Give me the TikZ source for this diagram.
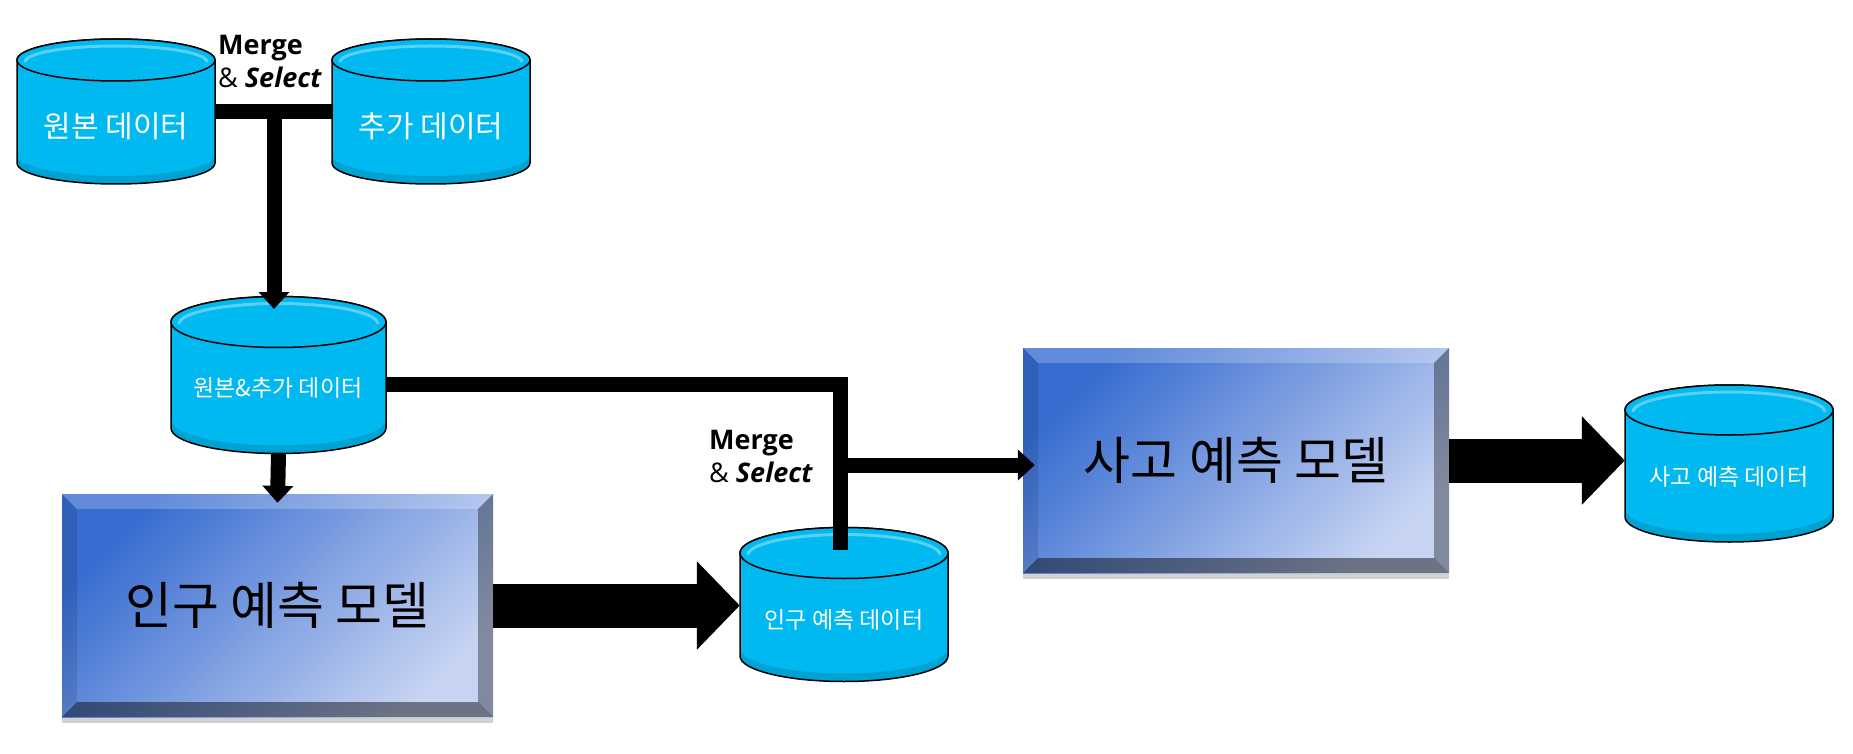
\documentclass[tikz,border=0pt]{standalone}
\usepackage{fontspec}
\setmainfont{Noto Sans CJK KR}
\newfontfamily\latinfont{Open Sans}
\usepackage{tikz}
\usetikzlibrary{arrows.meta, shadows}

\definecolor{dbcyan}{RGB}{0,185,240}
\definecolor{mdark}{RGB}{55,108,208}
\definecolor{mlight}{RGB}{198,211,242}

% cylinder: name, cx, top y, bottom y, rx, ry
\newcommand{\dbcyl}[6]{%
  \path[dbbody] ({#2-#5},#3) -- ({#2-#5},#4)
    arc[start angle=180, end angle=0, x radius=#5, y radius=#6]
    -- ({#2+#5},#3)
    arc[start angle=0, end angle=-180, x radius=#5, y radius=#6] -- cycle;
  \fill[black, opacity=.12] ({#2-#5},{#4-8}) -- ({#2-#5},#4)
    arc[start angle=180, end angle=0, x radius=#5, y radius=#6]
    -- ({#2+#5},{#4-8})
    arc[start angle=0, end angle=180, x radius=#5, y radius=#6] -- cycle;
  \draw[dbtop] (#2,#3) ellipse [x radius=#5, y radius=#6];
  \draw[white, opacity=.35, line width=3pt] ({#2-#5+8},{#3+2})
    arc[start angle=180, end angle=360, x radius={#5-8}, y radius={#6-5}];
  \node[dbnode, minimum width={2*#5}, minimum height={#4-#3+2*#6}] (#1) at (#2,{(#3+#4)/2}) {};
}

% bevelled edge of a model box
\newcommand{\bevel}[1]{%
  \fill[white, opacity=.22] (#1.north west) -- (#1.north east) -- ([shift={(-15,15)}]#1.north east) -- ([shift={(15,15)}]#1.north west) -- cycle;
  \fill[black, opacity=.10] (#1.north west) -- ([shift={(15,15)}]#1.north west) -- ([shift={(15,-15)}]#1.south west) -- (#1.south west) -- cycle;
  \fill[black, opacity=.35] (#1.north east) -- ([shift={(-15,15)}]#1.north east) -- ([shift={(-15,-15)}]#1.south east) -- (#1.south east) -- cycle;
  \fill[black, opacity=.45] (#1.south west) -- ([shift={(15,-15)}]#1.south west) -- ([shift={(-15,-15)}]#1.south east) -- (#1.south east) -- cycle;
}

\begin{document}
\begin{tikzpicture}[x=1pt, y=-1pt,
    dbbody/.style={fill=dbcyan, draw=black, line width=1.5pt},
    dbtop/.style={fill=dbcyan, draw=black, line width=1.5pt},
    dbnode/.style={rectangle, inner sep=0},
    dblabel/.style={text=white, inner sep=0},
    modelbox/.style={rectangle, inner sep=0, top color=mdark, bottom color=mlight,
      shading angle=45, font=\fontsize{51}{55}\selectfont,
      drop shadow={shadow xshift=0pt, shadow yshift=-6pt, opacity=.35}},
    mergelbl/.style={align=left, inner sep=0, font=\latinfont\fontsize{27}{33}\selectfont},
    link/.style={line width=15pt},
    linkarrow/.style={link, -{Triangle[width=30pt, length=17pt]}},
    bigarrow/.style={line width=44pt, -{Triangle[width=86pt, length=43pt]}}]

  \useasboundingbox[fill=white] (0,0) rectangle (1853,754);

  % data stores
  \dbcyl{src}{116}{60}{163}{99}{21}
  \dbcyl{add}{431}{60}{163}{99}{21}
  \dbcyl{both}{278.5}{322}{428}{107.5}{25.5}
  \dbcyl{popdata}{844}{553}{656}{104}{25.5}
  \dbcyl{accdata}{1729}{410}{517}{104}{25}

  \node[dblabel, font=\fontsize{30}{34}\selectfont] (src-t) at (116,126) {원본 데이터};
  \node[dblabel, font=\fontsize{30}{34}\selectfont] (add-t) at (431,126) {추가 데이터};
  \node[dblabel, font=\fontsize{23}{27}\selectfont] (both-t) at (278,388) {원본\&추가 데이터};
  \node[dblabel, font=\fontsize{23}{27}\selectfont] (popdata-t) at (844,620) {인구 예측 데이터};
  \node[dblabel, font=\fontsize{23}{27}\selectfont] (accdata-t) at (1729,477) {사고 예측 데이터};

  % models
  \node[modelbox, minimum width=431, minimum height=223] (popmodel) at (277.5,605.5) {인구 예측 모델};
  \node[modelbox, minimum width=426, minimum height=225] (accmodel) at (1236,460.5) {사고 예측 모델};
  \bevel{popmodel}
  \bevel{accmodel}

  % merge points
  \coordinate (m1) at (274,111.5);
  \coordinate (m1in) at (274,309);
  \coordinate (j1) at (840,384);
  \coordinate (j2) at (840,465);
  \coordinate (pd) at (840,550);

  \draw[link] (src.east) -- (add.west);
  \draw[linkarrow] (m1) -- (m1in);
  \draw[linkarrow] (both.south) -- ([yshift=-9pt]popmodel.north);
  \draw[link] (both.east |- j1) -- (j1) -- (pd);
  \draw[linkarrow] (j2) -- ([xshift=12pt]accmodel.west |- j2);

  \draw[bigarrow] (popmodel.east) -- (popmodel.east -| popdata.west);
  \draw[bigarrow] (accmodel.east) -- (accmodel.east -| accdata.west);

  \node[mergelbl, anchor=north west] (ms1) at (218,35) {\textbf{Merge}\\\& \textbf{\textit{Select}}};
  \node[mergelbl, anchor=north west] (ms2) at (709,430) {\textbf{Merge}\\\& \textbf{\textit{Select}}};
\end{tikzpicture}
\end{document}
